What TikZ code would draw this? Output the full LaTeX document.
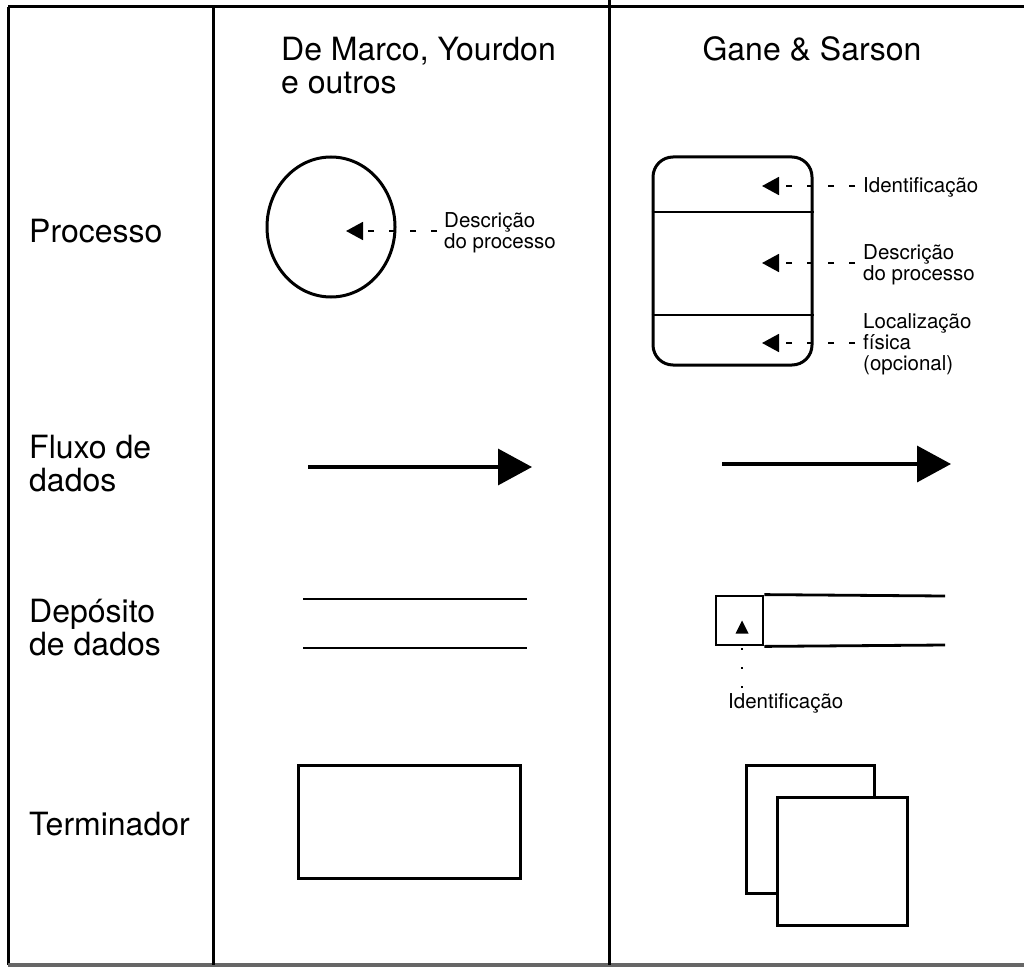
\documentclass[tikz,border=0pt]{standalone}
\usepackage{fontspec}
\setmainfont{TeX Gyre Heros}
\usetikzlibrary{arrows.meta,shapes.geometric}

\begin{document}
\begin{tikzpicture}[x=1pt,y=-1pt,
  rule/.style={line width=3pt},
  outline/.style={draw, line width=3pt},
  thin/.style={line width=2.8pt},
  big/.style={font=\fontsize{32}{33}\selectfont, inner sep=0pt, anchor=base west, align=left},
  small/.style={font=\fontsize{20.5}{21}\selectfont, inner sep=0pt, anchor=base west, align=left},
  leader/.style={line width=1.8pt, dash pattern=on 6pt off 15pt,
                 -{Triangle[length=17pt,width=18pt]}},
  flow/.style={line width=3.4pt, -{Triangle[length=34pt,width=36pt]}},
  dotleader/.style={line width=1.4pt, dash pattern=on 2pt off 17pt},
]
\useasboundingbox (0,0) rectangle (1024,968);
\fill[white] (0,0) rectangle (1024,968);

% table frame
\coordinate (tl) at (8,7);
\coordinate (tr) at (1024,7);
\coordinate (bl) at (8,965);
\coordinate (br) at (1024,965);
\draw[rule] (tl) -- (tr);
\draw[rule] (tl) -- (bl);
\draw[line width=3.4pt, black!60] (bl) -- (br);
\coordinate (c1t) at (213,7);
\coordinate (c1b) at (213,965);
\coordinate (c2t) at (609,0);
\coordinate (c2b) at (609,965);
\draw[rule] (c1t) -- (c1b);
\draw[rule] (c2t) -- (c2b);

% column headings (multi-line nodes sit on their last baseline)
\node[big] (hdm) at (281,94) {De Marco, Yourdon\\e outros};
\node[big, anchor=base] (hgs) at (812,61) {Gane \& Sarson};

% row headings
\node[big] (rproc)  at (29,243) {Processo};
\node[big] (rflux)  at (29,491) {Fluxo de\\dados};
\node[big] (rdep)   at (29,655) {Depósito\\de dados};
\node[big] (rterm)  at (29,835) {Terminador};

% --- Processo, De Marco / Yourdon: circle
\node[outline, ellipse, minimum width=128pt, minimum height=140pt, inner sep=0pt] (circ) at (331,227) {};
\node[small] (ldesc1) at (444,248) {Descrição\\do processo};
\coordinate (lead1s) at (437,231);
\coordinate (lead1e) at (346,231);
\draw[leader] (lead1s) -- (lead1e);

% --- Processo, Gane & Sarson: rounded box with three bands
\node[outline, rounded corners=20pt, minimum width=159pt, minimum height=208pt, inner sep=0pt] (gproc) at (732.5,261) {};
\coordinate (band1) at (0,212);
\coordinate (band2) at (0,315);
\draw[thin] (gproc.west |- band1) -- (gproc.east |- band1);
\draw[thin] (gproc.west |- band2) -- (gproc.east |- band2);

\node[small] (lid)   at (863,193) {Identificação};
\node[small] (ldesc2) at (863,280) {Descrição\\do processo};
\node[small] (lloc)  at (863,370) {Localização\\física\\(opcional)};
\coordinate (lead2s) at (855,186);
\coordinate (lead2e) at (762,186);
\coordinate (lead3s) at (855,263);
\coordinate (lead3e) at (762,263);
\coordinate (lead4s) at (855,343);
\coordinate (lead4e) at (762,343);
\draw[leader] (lead2s) -- (lead2e);
\draw[leader] (lead3s) -- (lead3e);
\draw[leader] (lead4s) -- (lead4e);

% --- Fluxo de dados
\coordinate (f1s) at (308,467);
\coordinate (f1e) at (532,467);
\draw[flow] (f1s) -- (f1e);
\coordinate (f2s) at (722,464);
\coordinate (f2e) at (951,464);
\draw[flow] (f2s) -- (f2e);

% --- Depósito de dados, De Marco / Yourdon: two parallel lines
\coordinate (d1a) at (303,599);
\coordinate (d1b) at (527,599);
\coordinate (d2a) at (303,648);
\coordinate (d2b) at (527,648);
\draw[thin] (d1a) -- (d1b);
\draw[thin] (d2a) -- (d2b);

% --- Depósito de dados, Gane & Sarson: open-ended box with id cell
\node[outline, line width=2.8pt, minimum width=47pt, minimum height=49pt, inner sep=0pt] (idcell) at (739.5,620.5) {};
\coordinate (sEndT) at (945,596);
\coordinate (sEndB) at (945,645);
\draw[thin] (idcell.north east) -- (sEndT);
\draw[thin] (idcell.south east) -- (sEndB);
\fill (735.5,633.5) -- (748.5,633.5) -- (742,620.5) -- cycle;
\node[small] (lid2) at (728,708) {Identificação};
\coordinate (dotS) at (742,648);
\draw[dotleader] (dotS) -- (lid2.north -| dotS);

% --- Terminador
\node[outline, minimum width=222pt, minimum height=113pt, inner sep=0pt] (term1) at (409,821.5) {};
\node[outline, minimum width=128pt, minimum height=128pt, inner sep=0pt] (term2b) at (810,829) {};
\node[outline, fill=white, minimum width=130pt, minimum height=128pt, inner sep=0pt] (term2f) at (842,861) {};

\end{tikzpicture}
\end{document}
